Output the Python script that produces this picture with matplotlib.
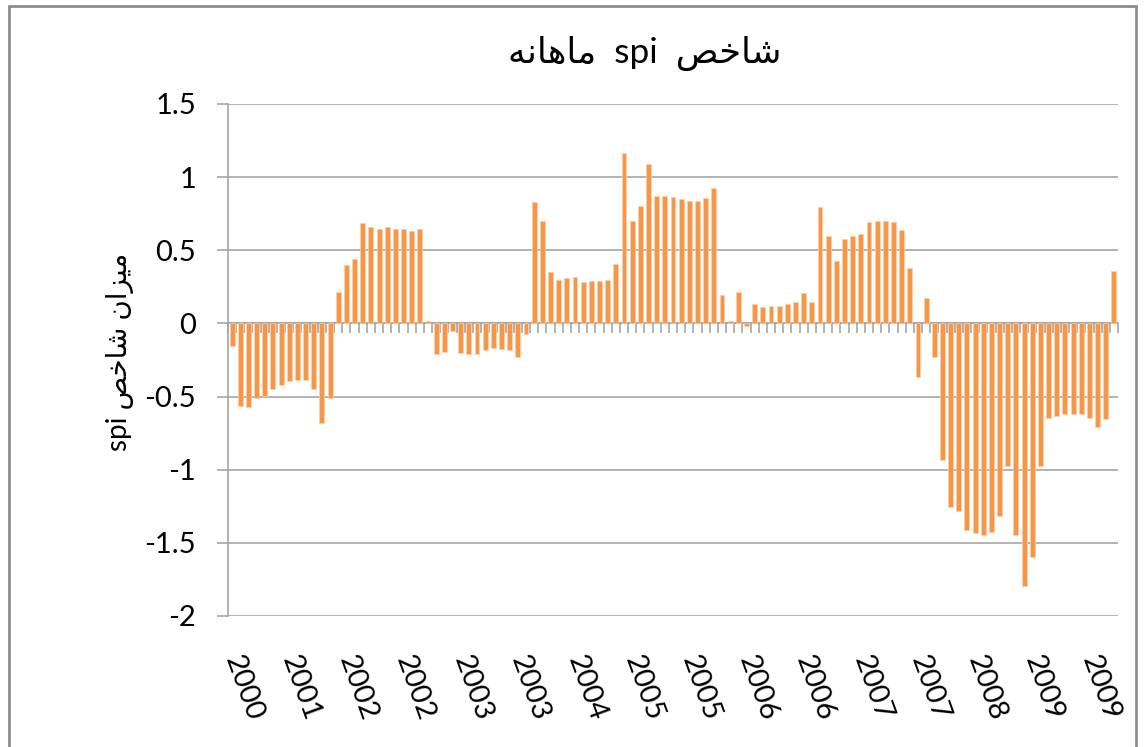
import matplotlib

matplotlib.use("Agg")
import matplotlib.pyplot as plt
from matplotlib.patches import Rectangle

# monthly spi values (109 bars)
spi = [
    -0.155, -0.564, -0.573, -0.511, -0.495, -0.450, -0.423, -0.393, -0.386, -0.386,
    -0.450, -0.682, -0.511, 0.218, 0.398, 0.443, 0.684, 0.657, 0.648, 0.657,
    0.648, 0.648, 0.630, 0.648, 0.020, -0.209, -0.193, -0.055, -0.200, -0.209,
    -0.209, -0.182, -0.166, -0.173, -0.182, -0.227, -0.075, 0.827, 0.702, 0.352,
    0.300, 0.309, 0.316, 0.282, 0.291, 0.291, 0.300, 0.407, 1.168, 0.702,
    0.800, 1.090, 0.873, 0.873, 0.864, 0.848, 0.839, 0.839, 0.855, 0.927,
    0.191, 0.020, 0.218, -0.018, 0.130, 0.111, 0.120, 0.120, 0.130, 0.148,
    0.209, 0.148, 0.793, 0.595, 0.425, 0.577, 0.595, 0.614, 0.693, 0.702,
    0.702, 0.693, 0.639, 0.380, -0.368, 0.173, -0.227, -0.936, -1.255, -1.284,
    -1.409, -1.436, -1.445, -1.427, -1.318, -0.977, -1.445, -1.795, -1.598, -0.977,
    -0.648, -0.636, -0.620, -0.620, -0.620, -0.648, -0.709, -0.655, 0.361,
]
year_labels = ["2000", "2001", "2002", "2002", "2003", "2003", "2004", "2005",
               "2005", "2006", "2006", "2007", "2007", "2008", "2009", "2009"]
label_step = 7
y_ticks = [1.5, 1, 0.5, 0, -0.5, -1, -1.5, -2]

# matplotlib does no arabic shaping, so the words are given as
# presentation forms in visual (left-to-right) order
shakhes = "\uFEBA\uFEA7\uFE8E\uFEB7"            # شاخص
mahaneh = "\uFEEA\uFEE7\uFE8E\uFEEB\uFE8E\uFEE3"  # ماهانه
mizan = "\uFEE5\uFE8D\uFEB0\uFEF4\uFEE3"          # میزان
title = f"{mahaneh}  spi  {shakhes}"
ylabel = f"spi {shakhes} {mizan}"

plt.rcParams["font.family"] = ["Lato", "DejaVu Sans"]
GRID = "#A6A6A6"
ORANGE = "#F79646"

fig = plt.figure(figsize=(11.45, 7.47), dpi=100)
ax = fig.add_axes([228 / 1145, 1 - 616 / 747, 890 / 1145, 512 / 747])

x = range(len(spi))
ax.bar(x, spi, width=0.6, color=ORANGE, edgecolor="#FBD0AE", linewidth=0.5, zorder=3)

ax.set_xlim(-0.5, len(spi) - 0.5)
ax.set_ylim(-2, 1.5)
ax.set_yticks(y_ticks)
ax.set_yticklabels([f"{v:g}" for v in y_ticks])
ax.yaxis.grid(True, color=GRID, lw=1.2, zorder=0)
ax.tick_params(axis="y", length=8, width=1.2, color=GRID, pad=15, labelsize=21)

for side in ("top", "right", "bottom"):
    ax.spines[side].set_visible(False)
ax.spines["left"].set_color(GRID)
ax.spines["left"].set_linewidth(1.2)

# year labels sit at the bottom of the plot, every 7th month
label_pos = list(range(0, len(spi), label_step))[: len(year_labels)]
ax.set_xticks(label_pos)
ax.set_xticklabels(year_labels)
ax.tick_params(axis="x", length=0, pad=29, labelsize=21)
plt.setp(ax.get_xticklabels(), rotation=-70, ha="left", va="center",
         rotation_mode="anchor")

# category axis crossing at zero, with tick marks between months
zero_frac = (0 - (-2)) / 3.5
sec = ax.secondary_xaxis(zero_frac)
sec.set_alignment("bottom")
sec.set_xticks([i - 0.5 for i in range(len(spi) + 1)])
sec.tick_params(axis="x", length=7, width=1.2, color=GRID, labelbottom=False)
sec.spines["bottom"].set_color(GRID)
sec.spines["bottom"].set_linewidth(1.2)

fig.text(645 / 1145, 1 - 53 / 747, title, ha="center", va="center", fontsize=25.5)
fig.text(120 / 1145, 1 - 352 / 747, ylabel, ha="center", va="center",
         rotation=90, fontsize=20)

fig.patches.append(Rectangle((9 / 1145, -0.05), 1127 / 1145, 1.05 - 6 / 747,
                             transform=fig.transFigure, fill=False,
                             edgecolor="#8C8C8C", lw=2))

fig.savefig("out.png", dpi=100)
